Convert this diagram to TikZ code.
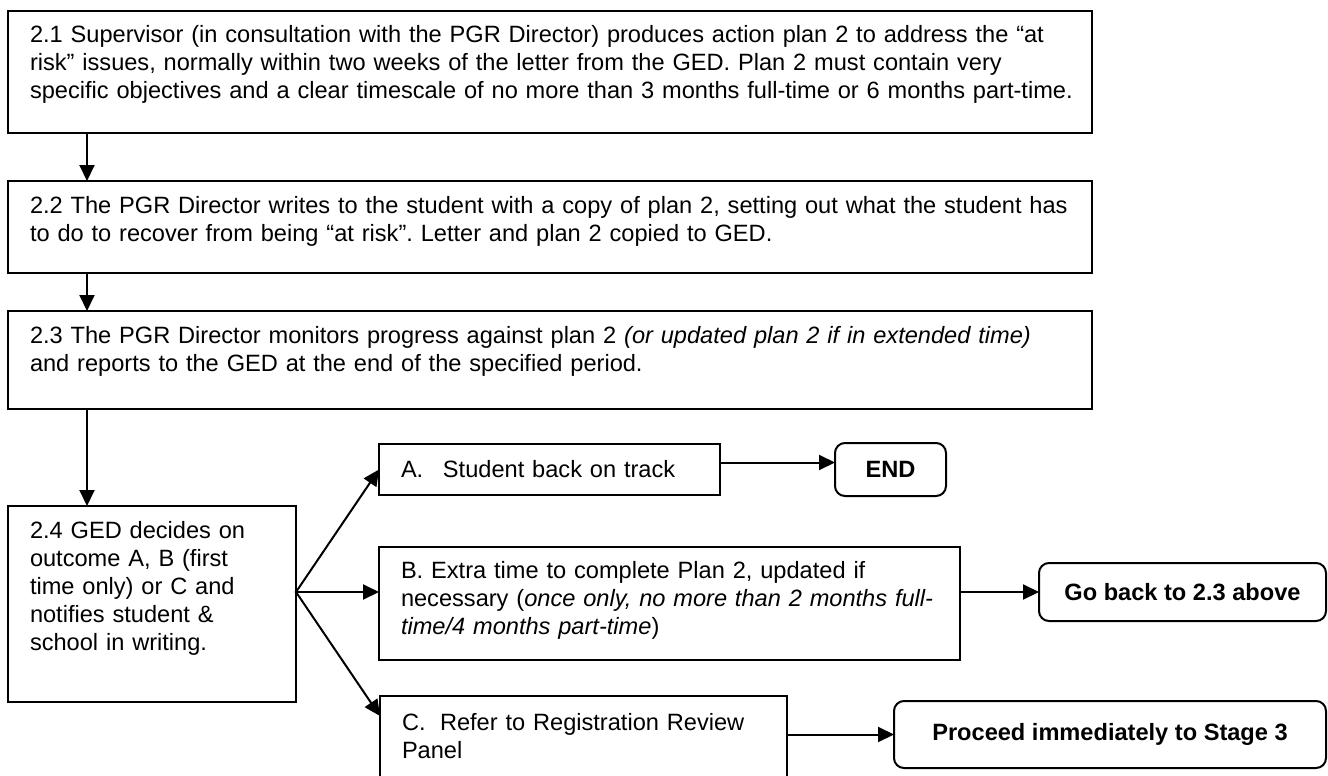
\documentclass[tikz,border=0pt]{standalone}
\usepackage{fontspec}
\setmainfont{Liberation Sans}
\usetikzlibrary{arrows.meta}
\frenchspacing
\begin{document}
\begin{tikzpicture}[x=1pt,y=-1pt,line cap=rect,
  stepbox/.style={draw=custcol_0_0_0, line width=2.0pt, inner sep=0, outer sep=0, anchor=north west},
  endbox/.style={stepbox, rounded corners=10pt, font=\fontsize{23.6pt}{28pt}\bfseries\selectfont},
  txt/.style={inner sep=0, outer sep=0, custcol_0_0_0, anchor=base west, align=left, font=\fontsize{23.6pt}{28pt}\selectfont},
  arr/.style={line width=2.0pt, custcol_0_0_0, -{Triangle[length=16pt,width=15pt]}}]
\useasboundingbox (0,0) rectangle (1328,776);
\definecolor{custcol_0_0_0}{RGB}{0, 0, 0}
\definecolor{custcol_ff_ff_ff}{RGB}{255, 255, 255}
\fill [custcol_ff_ff_ff] (0,0) rectangle (1328,776);
\node[stepbox, minimum width=1084pt, minimum height=122pt] (s21) at (8,11) {};
\node[stepbox, minimum width=1084pt, minimum height=92pt] (s22) at (8,181) {};
\node[stepbox, minimum width=1084pt, minimum height=98pt] (s23) at (8,311) {};
\node[stepbox, minimum width=288pt, minimum height=196pt] (s24) at (8,506) {};
\node[stepbox, minimum width=341pt, minimum height=51pt] (oa) at (379,444) {};
\node[stepbox, minimum width=581pt, minimum height=113pt] (ob) at (379,547) {};
\node[stepbox, minimum width=407pt, minimum height=110pt] (oc) at (380,696) {};
\node[endbox, minimum width=111pt, minimum height=53pt] (fin) at (835,443) {END};
\node[endbox, minimum width=287pt, minimum height=58pt] (back) at (1039,563) {Go back to 2.3 above};
\node[endbox, minimum width=432pt, minimum height=67pt] (stage3) at (894,701) {Proceed immediately to Stage 3};
\node[txt, text width=1080pt] (t21) at (30,43) {2.1 Supervisor (in consultation with the PGR Director) produces action plan 2 to address the “at\\
risk” issues, normally within two weeks of the letter from the GED. Plan 2 must contain very\\
specific objectives and a clear timescale of no more than 3 months full-time or 6 months part-time.};
\node[txt, text width=1080pt] (t22) at (30,213) {2.2 The PGR Director writes to the student with a copy of plan 2, setting out what the student has\\
to do to recover from being “at risk”. Letter and plan 2 copied to GED.};
\node[txt, text width=1080pt] (t23) at (30,343) {2.3 The PGR Director monitors progress against plan 2 \textit{(or updated plan 2 if in extended time)}\\
and reports to the GED at the end of the specified period.};
\node[txt, text width=260pt] (t24) at (30,538) {2.4 GED decides on\\ outcome A, B (first\\ time only) or C and\\ notifies student \&\\ school in writing.};
\node[txt, text width=310pt] (ta) at (401,477) {\makebox[42pt][l]{A.}Student back on track};
\node[txt, text width=570pt] (tb) at (401,578) {B. Extra time to complete Plan 2, updated if\\
necessary (\textit{once only, no more than 2 months full-}\\ \textit{time/4 months part-time})};
\node[txt, text width=380pt] (tc) at (402,730) {\makebox[38pt][l]{C.}Refer to Registration Review\\ Panel};
\draw[arr] ([xshift=79pt]s21.south west) -- ([xshift=79pt]s22.north west);
\draw[arr] ([xshift=79pt]s22.south west) -- ([xshift=79pt]s23.north west);
\draw[arr] ([xshift=79pt]s23.south west) -- ([xshift=79pt]s24.north west);
\coordinate (fork) at ([yshift=12pt]s24.east);
\draw[arr] (fork) -- (oa.west);
\draw[arr] (fork) -- (fork -| ob.west);
\draw[arr] (fork) -- ([yshift=-20pt]oc.north west);
\draw[arr] ([yshift=7pt]oa.east) -- ([yshift=7pt]fin.west);
\draw[arr] (back.west -| ob.east) -- (back.west);
\draw[arr] (stage3.west -| oc.east) -- (stage3.west);
\end{tikzpicture}
\end{document}
